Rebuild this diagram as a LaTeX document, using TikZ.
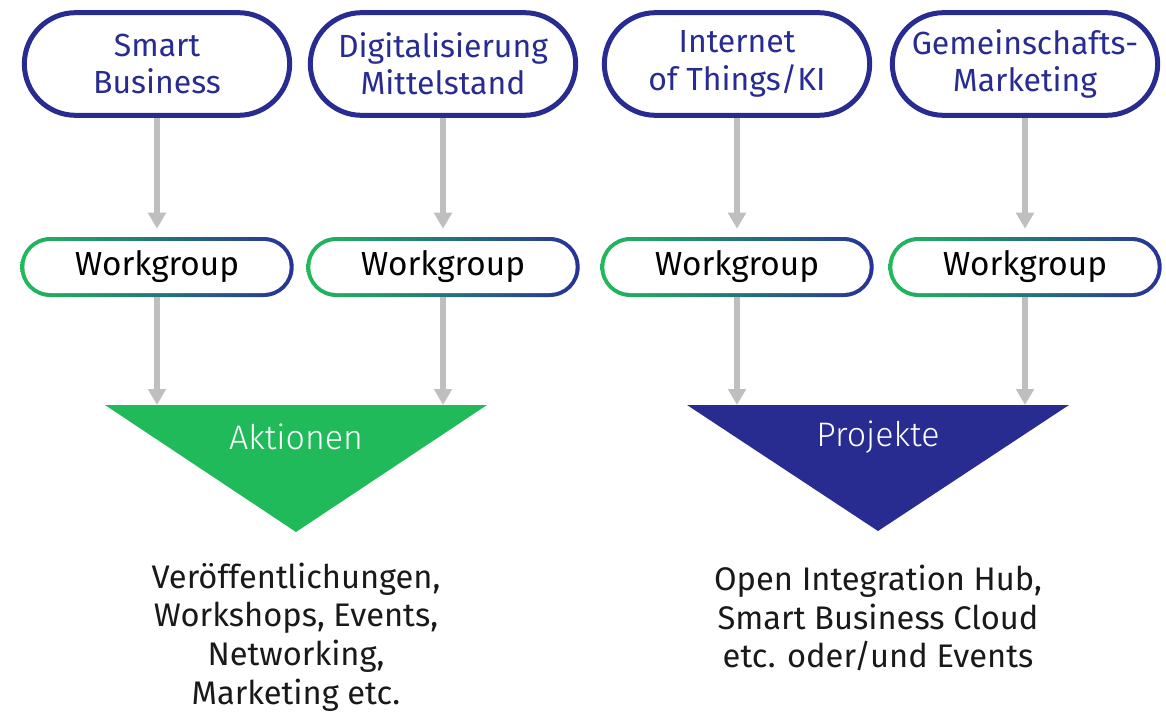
\documentclass[tikz,border=0pt]{standalone}
\usepackage{fontspec}
\setmainfont{Fira Sans}
\newfontfamily\lightfont{Fira Sans Light}
\usetikzlibrary{arrows.meta}
\usetikzlibrary{positioning}

\definecolor{topblue}{RGB}{40,44,145}
\definecolor{wggreen}{RGB}{33,186,91}
\definecolor{wgblue}{RGB}{40,50,150}
\definecolor{arrgray}{RGB}{191,191,191}

\begin{document}
\begin{tikzpicture}[x=0.75pt,y=-0.75pt]
\tikzstyle{topic node}=[rectangle,draw=topblue,line width=3.75pt,rounded corners=38.5pt,
  minimum width=199pt,minimum height=77pt,align=center,text=topblue,
  font=\fontsize{24}{28}\selectfont,inner sep=0]
\tikzstyle{result text}=[align=center,font=\fontsize{24.5}{29}\selectfont,text=black!90]
\tikzset{
  wg node/.style = {rectangle,rounded corners=22.5pt,minimum width=205pt,minimum height=45pt,
    font=\fontsize{25}{28}\selectfont,inner sep=0,
    path picture={
      \shade[left color=wggreen,right color=wgblue]
        (path picture bounding box.south west) rectangle (path picture bounding box.north east);
      \fill[white,rounded corners=19.5pt]
        ([shift={(3pt,3pt)}]path picture bounding box.south west) rectangle
        ([shift={(-3pt,-3pt)}]path picture bounding box.north east);
    }},
  tri text/.style = {text=white,font=\lightfont\fontsize{25.5}{28}\selectfont},
  flow/.style = {draw=arrgray,line width=4.5pt,-{Triangle[length=12pt,width=13pt,fill=arrgray]}}
}
\useasboundingbox (0,0) rectangle (1166,713);

    % triangles
    \fill[wggreen] (105,405) -- (487,405) -- (296,532) -- cycle;
    \fill[topblue] (687,405) -- (1069,405) -- (878,531) -- cycle;

    \node[topic node] (sb)  at (157,64)  {Smart\\Business};
    \node[topic node] (dm)  at (443,64)  {Digitalisierung\\Mittelstand};
    \node[topic node] (iot) at (737,64)  {Internet\\of Things/KI};
    \node[topic node] (gm)  at (1025,64) {Gemeinschafts-\\Marketing};

    \node[wg node] (wsb)  at (157,267)  {Workgroup};
    \node[wg node] (wdm)  at (443,267)  {Workgroup};
    \node[wg node] (wiot) at (737,267)  {Workgroup};
    \node[wg node] (wgm)  at (1025,267) {Workgroup};

    \coordinate (asb)  at (157,405);
    \coordinate (adm)  at (443,405);
    \coordinate (piot) at (737,405);
    \coordinate (pgm)  at (1025,405);

    \node[tri text] (akt) at (296,437) {Aktionen};
    \node[tri text] (prj) at (878,437) {Projekte};

    %%%%%%%%%%%%%%%%%%%%%%%%%%%%%%%%%%%
    \node[result text] (ra) at (296,637) {Ver\"offentlichungen,\\Workshops, Events,\\Networking,\\Marketing etc.};
    \node[result text] (rp) at (878,618) {Open Integration Hub,\\Smart Business Cloud\\etc. oder/und Events};

    \path
        (sb)  edge[flow,shorten >=6pt] (wsb)
        (dm)  edge[flow,shorten >=6pt] (wdm)
        (iot) edge[flow,shorten >=6pt] (wiot)
        (gm)  edge[flow,shorten >=6pt] (wgm)
        %%%%%%%%%%%%%%%%%
        (wsb)  edge[flow] (asb)
        (wdm)  edge[flow] (adm)
        (wiot) edge[flow] (piot)
        (wgm)  edge[flow] (pgm)
;
\end{tikzpicture}
\end{document}
